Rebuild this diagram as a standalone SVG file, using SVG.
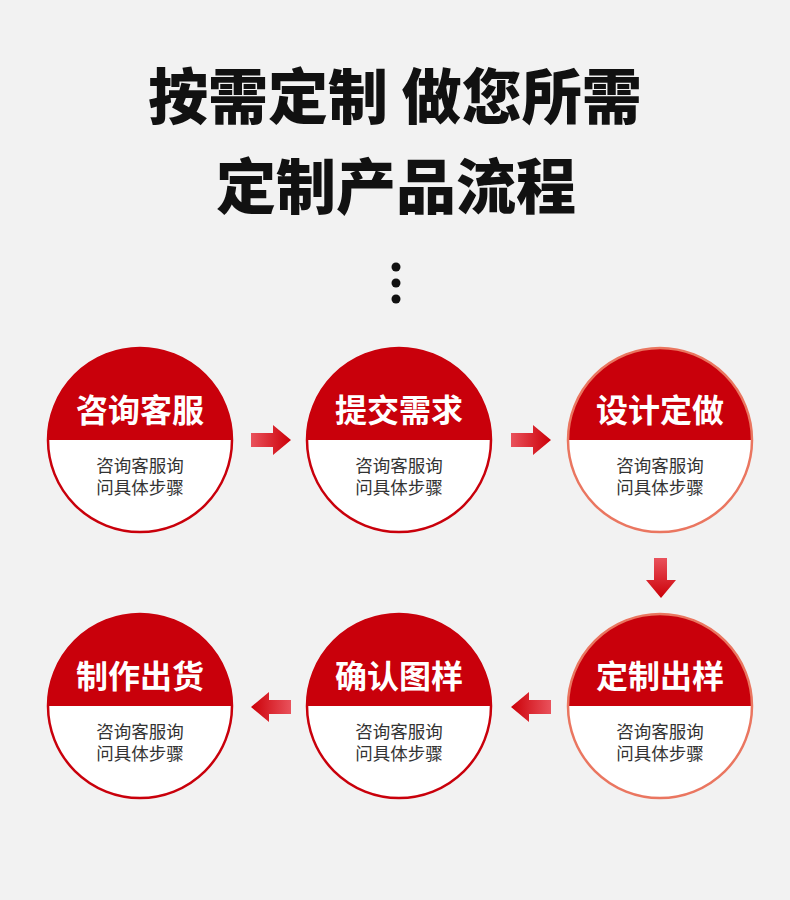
<svg xmlns="http://www.w3.org/2000/svg" width="790" height="900" viewBox="0 0 790 900">
<defs>
<style>
.title{font-family:"Noto Sans CJK SC","Noto Sans",sans-serif;font-weight:900;fill:#111;text-anchor:middle;font-size:60px}
.head{font-family:"Noto Sans CJK SC","Noto Sans",sans-serif;font-weight:700;fill:#fff;text-anchor:middle;font-size:32px}
.body{font-family:"Noto Sans CJK SC","Noto Sans",sans-serif;font-weight:400;fill:#333;text-anchor:middle;font-size:17.5px}
.top{fill:#c9000b}
.ring{fill:none;stroke:#c9000b;stroke-width:2.5}
.ring2{fill:none;stroke:#ea7660;stroke-width:2.5}
</style>
<linearGradient id="gr" x1="0" y1="0" x2="1" y2="0"><stop offset="0" stop-color="#e9525c"/><stop offset="1" stop-color="#cc0008"/></linearGradient>
<linearGradient id="gl" x1="1" y1="0" x2="0" y2="0"><stop offset="0" stop-color="#e9525c"/><stop offset="1" stop-color="#cc0008"/></linearGradient>
<linearGradient id="gd" x1="0" y1="0" x2="0" y2="1"><stop offset="0" stop-color="#e9525c"/><stop offset="1" stop-color="#cc0008"/></linearGradient>
</defs>
<rect width="790" height="900" fill="#f2f2f2"/>
<g id="title">
<text class="title" x="395" y="119">按需定制 做您所需</text>
<text class="title" x="396" y="209">定制产品流程</text>
<circle cx="396" cy="267" r="4.5" fill="#111"/>
<circle cx="396" cy="283" r="4.5" fill="#111"/>
<circle cx="396" cy="299" r="4.5" fill="#111"/>
</g>
<g id="n1">
<circle cx="140" cy="440" r="92" fill="#fff"/>
<path class="top" d="M48 440 A92 92 0 0 1 232 440 Z"/>
<circle class="ring" cx="140" cy="440" r="92"/>
<text class="head" x="140" y="422">咨询客服</text>
<text class="body" x="140" y="472">咨询客服询<tspan x="140" dy="22">问具体步骤</tspan></text>
</g>
<g id="n2">
<circle cx="399" cy="440" r="92" fill="#fff"/>
<path class="top" d="M307 440 A92 92 0 0 1 491 440 Z"/>
<circle class="ring" cx="399" cy="440" r="92"/>
<text class="head" x="399" y="422">提交需求</text>
<text class="body" x="399" y="472">咨询客服询<tspan x="399" dy="22">问具体步骤</tspan></text>
</g>
<g id="n3">
<circle cx="660" cy="440" r="92" fill="#fff"/>
<path class="top" d="M568 440 A92 92 0 0 1 752 440 Z"/>
<circle class="ring2" cx="660" cy="440" r="92"/>
<text class="head" x="660" y="422">设计定做</text>
<text class="body" x="660" y="472">咨询客服询<tspan x="660" dy="22">问具体步骤</tspan></text>
</g>
<g id="n4">
<circle cx="660" cy="706" r="92" fill="#fff"/>
<path class="top" d="M568 706 A92 92 0 0 1 752 706 Z"/>
<circle class="ring2" cx="660" cy="706" r="92"/>
<text class="head" x="660" y="688">定制出样</text>
<text class="body" x="660" y="738">咨询客服询<tspan x="660" dy="22">问具体步骤</tspan></text>
</g>
<g id="n5">
<circle cx="399" cy="706" r="92" fill="#fff"/>
<path class="top" d="M307 706 A92 92 0 0 1 491 706 Z"/>
<circle class="ring" cx="399" cy="706" r="92"/>
<text class="head" x="399" y="688">确认图样</text>
<text class="body" x="399" y="738">咨询客服询<tspan x="399" dy="22">问具体步骤</tspan></text>
</g>
<g id="n6">
<circle cx="140" cy="706" r="92" fill="#fff"/>
<path class="top" d="M48 706 A92 92 0 0 1 232 706 Z"/>
<circle class="ring" cx="140" cy="706" r="92"/>
<text class="head" x="140" y="688">制作出货</text>
<text class="body" x="140" y="738">咨询客服询<tspan x="140" dy="22">问具体步骤</tspan></text>
</g>
<g id="connectors">
<polygon fill="url(#gr)" points="251,433 273,433 273,425 291,440 273,455 273,447 251,447"/>
<polygon fill="url(#gr)" points="511,433 533,433 533,425 551,440 533,455 533,447 511,447"/>
<polygon fill="url(#gd)" points="654,558 667,558 667,580 676,580 661,598 646,580 654,580"/>
<polygon fill="url(#gl)" points="551,700 529,700 529,692 511,707 529,722 529,714 551,714"/>
<polygon fill="url(#gl)" points="291,700 269,700 269,692 251,707 269,722 269,714 291,714"/>
</g>
</svg>
